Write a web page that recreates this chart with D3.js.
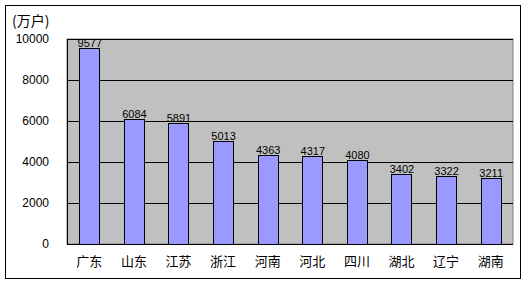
<!DOCTYPE html>
<html><head><meta charset="utf-8">
<script src="https://cdn.jsdelivr.net/npm/d3@7"></script>
<style>body{margin:0;background:#fff}svg{display:block}</style>
</head><body>
<script>
const categories = ["广东","山东","江苏","浙江","河南","河北","四川","湖北","辽宁","湖南"];
const values = [9577,6084,5891,5013,4363,4317,4080,3402,3322,3211];
const yTicks = [0,2000,4000,6000,8000,10000];
const unitLabel = "(万户)";

const W=528,H=286;
const svg=d3.select("body").append("svg").attr("width",W).attr("height",H);
svg.append("rect").attr("width",W).attr("height",H).attr("fill","#fff");
svg.append("rect").attr("x",5.5).attr("y",5.5).attr("width",515).attr("height",273)
  .attr("fill","none").attr("stroke","#000");

const L=67,R=513,T=39,B=244;
const x=d3.scaleBand().domain(categories).range([L,R]).paddingInner(0.55).paddingOuter(0.275);
const y=d3.scaleLinear().domain([0,10000]).range([B,T]);

svg.append("rect").attr("x",L).attr("y",T).attr("width",R-L).attr("height",B-T)
  .attr("fill","#C0C0C0").attr("stroke","#808080");

svg.append("g").selectAll("line").data(yTicks).join("line")
  .attr("x1",L).attr("x2",R).attr("y1",d=>Math.round(y(d))+0.5).attr("y2",d=>Math.round(y(d))+0.5)
  .attr("stroke","#000");

const yAxis=svg.append("g").attr("transform",`translate(${L},0)`)
  .call(d3.axisLeft(y).tickValues(yTicks).tickSize(0).tickPadding(18).tickFormat(d3.format("d")));
yAxis.select(".domain").remove();
yAxis.selectAll("text").attr("font-family","Liberation Sans, Arial, sans-serif").attr("font-size",12).attr("fill","#000");

svg.append("line").attr("x1",L+0.5).attr("x2",L+0.5).attr("y1",T).attr("y2",B).attr("stroke","#000");
svg.append("line").attr("x1",L).attr("x2",R).attr("y1",B+0.5).attr("y2",B+0.5).attr("stroke","#000");

svg.append("g").selectAll("rect").data(values).join("rect")
  .attr("x",(d,i)=>Math.round(x(categories[i]))+0.5)
  .attr("y",d=>Math.round(y(d))+0.5)
  .attr("width",Math.round(x.bandwidth()))
  .attr("height",d=>B-Math.round(y(d)))
  .attr("fill","#9999FF").attr("stroke","#000");

svg.append("g").selectAll("text").data(values).join("text")
  .attr("x",(d,i)=>x(categories[i])+x.bandwidth()/2+0.5)
  .attr("y",d=>y(d)-1)
  .attr("text-anchor","middle")
  .attr("font-family","Liberation Sans, Arial, sans-serif").attr("font-size",11)
  .text(d=>d);

const xAxis=svg.append("g").attr("transform",`translate(0,${B})`)
  .call(d3.axisBottom(x).tickSize(0).tickPadding(13));
xAxis.select(".domain").remove();
xAxis.selectAll("text").attr("font-family","Noto Sans CJK SC, sans-serif").attr("font-size",13).attr("fill","#000");

svg.append("text").attr("x",12).attr("y",26).attr("font-family","Noto Sans CJK SC, sans-serif")
  .attr("font-size",14).text(unitLabel);
</script>
</body></html>
